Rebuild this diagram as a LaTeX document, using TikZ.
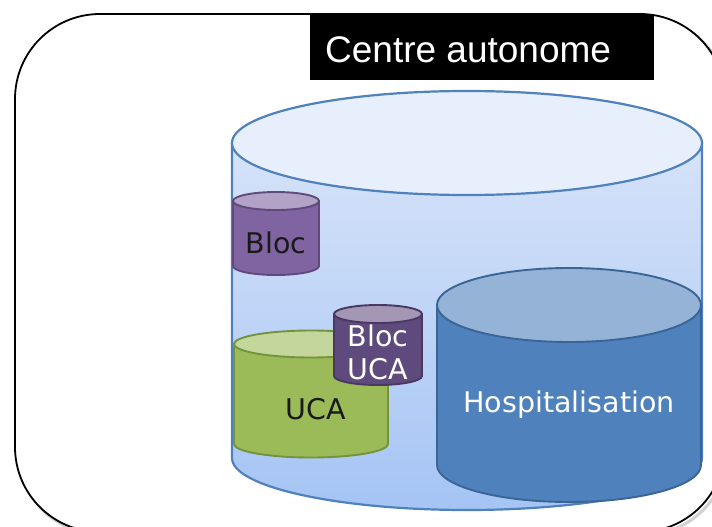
\documentclass[tikz,border=0pt]{standalone}
\usepackage{fontspec}
\setmainfont{DejaVu Sans}
\newfontfamily\titlefont{Liberation Sans}
\definecolor{bigline}{HTML}{4F81BD}
\definecolor{bigtopA}{HTML}{D6E3F9}
\definecolor{bigbotA}{HTML}{A5C4F4}
\definecolor{bigcap}{HTML}{E8EFFC}
\definecolor{hosline}{HTML}{3A6596}
\definecolor{hosbody}{HTML}{4F81BD}
\definecolor{hoscap}{HTML}{95B3D7}
\definecolor{blocline}{HTML}{604A7B}
\definecolor{blocbody}{HTML}{8064A2}
\definecolor{bloccap}{HTML}{B3A2C7}
\definecolor{bucline}{HTML}{4A3862}
\definecolor{bucbody}{HTML}{5F4A7D}
\definecolor{buccap}{HTML}{A497B6}
\definecolor{ucaline}{HTML}{76923C}
\definecolor{ucabody}{HTML}{9BBB59}
\definecolor{ucacap}{HTML}{C3D69B}
% upright drum: centre x, x radius, cap centre y, base centre y, y radius,
% outline, body top colour, body bottom colour, cap fill
\newcommand\drawdrum[9]{%
  \path[draw=#6, top color=#7, bottom color=#8]
    (#1-#2,#3) -- (#1-#2,#4)
    arc[start angle=180, end angle=0, x radius=#2, y radius=#5]
    -- (#1+#2,#3) -- cycle;
  \draw[draw=#6, fill=#9] (#1,#3) ellipse[x radius=#2, y radius=#5];
}
\tikzset{
  label/.style={inner sep=0pt, font=\fontsize{28.5}{33}\selectfont, align=center},
}
\begin{document}
\begin{tikzpicture}[x=1pt, y=-1pt]
\useasboundingbox (0,0) rectangle (712,527);
\clip (0,0) rectangle (712,527);
\fill[white] (0,0) rectangle (712,527);
% frame with soft shadow
\draw[gray!35, line width=3pt, rounded corners=85pt] (18,17) rectangle (728,535);
\draw[black, line width=1.8pt, fill=white, rounded corners=85pt] (15,14) rectangle (725,532);
% title banner
\fill[black] (310,14) rectangle (654,80);
\node[inner sep=0pt, anchor=base west, text=white,
      font=\titlefont\fontsize{37}{40}\selectfont] (title) at (325,63) {Centre autonome};
% main drum
\begin{scope}[line width=2.2pt]
\drawdrum{467}{235}{143}{458}{52}{bigline}{bigtopA}{bigbotA}{bigcap}
\end{scope}
\begin{scope}[line width=1.9pt]
% Bloc
\drawdrum{276}{43}{201}{266}{9}{blocline}{blocbody}{blocbody}{bloccap}
% UCA
\drawdrum{311}{77}{344}{444}{13.5}{ucaline}{ucabody}{ucabody}{ucacap}
% Bloc UCA
\drawdrum{378}{44}{314}{376}{9}{bucline}{bucbody}{bucbody}{buccap}
% Hospitalisation
\drawdrum{569}{132}{305}{465}{37}{hosline}{hosbody}{hosbody}{hoscap}
\end{scope}
\node[label, text=black!90] (bloc) at (276,243) {Bloc};
\node[label, text=black!90] (uca) at (316,409) {UCA};
\node[label, text=white] (blocuca) at (378,352) {Bloc\\UCA};
\node[label, text=white] (hosp) at (569,405) {Hospitalisation};
\end{tikzpicture}
\end{document}
